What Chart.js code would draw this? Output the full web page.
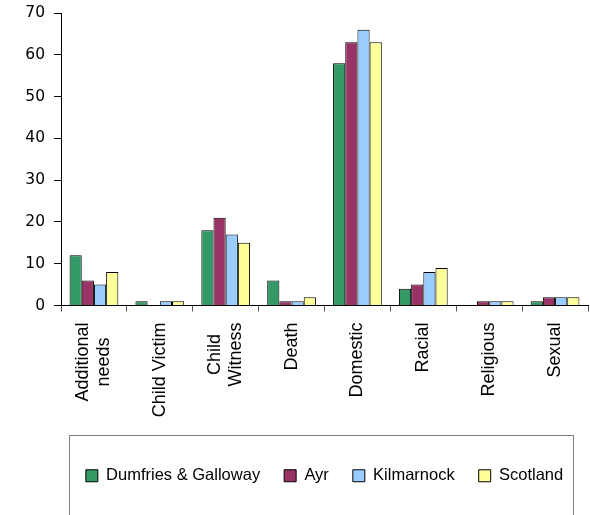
<!DOCTYPE html>
<html>
<head>
<meta charset="utf-8">
<script src="https://cdn.jsdelivr.net/npm/chart.js@4.4.0/dist/chart.umd.min.js"></script>
<style>
    html, body { margin: 0; padding: 0; background: #fff; }
    #wrap { width: 590px; height: 515px; }
</style>
</head>
<body>
<div id="wrap"><canvas id="chart"></canvas></div>
<script>
const categories = [['Additional', 'needs'], 'Child Victim', ['Child', 'Witness'], 'Death', 'Domestic', 'Racial', 'Religious', 'Sexual'];
const seriesNames = ['Dumfries & Galloway', 'Ayr', 'Kilmarnock', 'Scotland'];
const dumfries = [12, 1, 18, 6, 58, 4, 0, 1];
const ayr = [6, 0, 21, 1, 63, 5, 1, 2];
const kilmarnock = [5, 1, 17, 1, 66, 8, 1, 2];
const scotland = [8, 1, 15, 2, 63, 9, 1, 2];
const yMin = 0, yMax = 70, yStep = 10;

const colours = ['#339966', '#993366', '#99CCFF', '#FFFF99'];
const seriesValues = [dumfries, ayr, kilmarnock, scotland];

// x labels are drawn by hand so two-line labels sit centred like the original
const xLabelPlugin = {
    id: 'xLabels',
    afterDraw(chart) {
        const ctx = chart.ctx;
        const xScale = chart.scales.x;
        const top = chart.chartArea.bottom + 17;
        const lh = 21;
        ctx.save();
        ctx.font = '18px "Liberation Sans", Arial, sans-serif';
        ctx.fillStyle = '#000';
        ctx.textBaseline = 'middle';
        ctx.textAlign = 'center';
        categories.forEach((label, i) => {
            const lines = Array.isArray(label) ? label : [label];
            const maxW = Math.max(...lines.map(l => ctx.measureText(l).width));
            const cx = xScale.getPixelForValue(i);
            lines.forEach((line, j) => {
                const x = cx + (j - (lines.length - 1) / 2) * lh;
                ctx.save();
                ctx.translate(x, top + maxW / 2);
                ctx.rotate(-Math.PI / 2);
                ctx.fillText(line, 0, 0);
                ctx.restore();
            });
        });
        ctx.restore();
    }
};

// frame round the legend
const legendBoxPlugin = {
    id: 'legendBox',
    afterDraw(chart) {
        const ctx = chart.ctx;
        ctx.save();
        ctx.strokeStyle = '#808080';
        ctx.lineWidth = 1;
        ctx.strokeRect(69.5, 435.5, 504, 100);
        ctx.restore();
    }
};

const config = {
    type: 'bar',
    data: {
        labels: categories,
        datasets: seriesNames.map((name, i) => ({
            label: name,
            data: seriesValues[i],
            backgroundColor: colours[i],
            borderColor: '#000',
            borderWidth: 1,
            categoryPercentage: 0.74,
            barPercentage: 1
        }))
    },
    options: {
        responsive: true,
        maintainAspectRatio: false,
        animation: false,
        layout: { padding: { top: 13, right: 2, left: 0, bottom: 21 } },
        plugins: {
            tooltip: { enabled: false },
            legend: {
                position: 'bottom',
                fullSize: false,
                labels: {
                    boxWidth: 12,
                    boxHeight: 12,
                    padding: 24,
                    color: '#000',
                    font: { family: '"Liberation Sans", Arial, sans-serif', size: 16.5 }
                }
            }
        },
        scales: {
            x: {
                grid: { drawOnChartArea: false, drawTicks: true, tickLength: 6, color: '#555' },
                border: { color: '#000', width: 1 },
                ticks: { display: false },
                afterFit: (scale) => { scale.height = 138; }
            },
            y: {
                min: yMin,
                max: yMax,
                grid: { drawOnChartArea: false, drawTicks: true, tickLength: 7, color: '#000' },
                border: { color: '#000', width: 1 },
                ticks: {
                    stepSize: yStep,
                    padding: 9,
                    color: '#000',
                    font: { family: '"DejaVu Sans", Verdana, sans-serif', size: 15.5 }
                },
                afterFit: (scale) => {
                    scale.width = 61;
                    scale.paddingTop = 0;
                    scale.paddingBottom = 0;
                }
            }
        }
    },
    plugins: [xLabelPlugin, legendBoxPlugin]
};

new Chart(document.getElementById('chart').getContext('2d'), config);
</script>
</body>
</html>
